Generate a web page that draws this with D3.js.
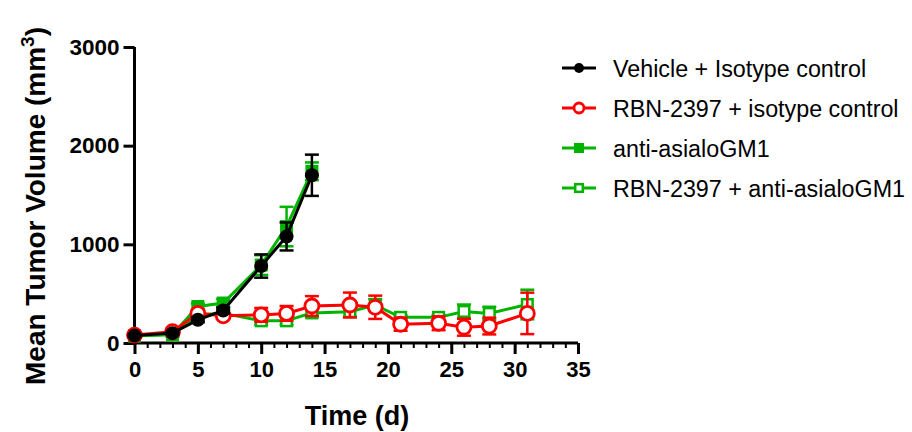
<!DOCTYPE html>
<html lang="en">
<head>
<meta charset="UTF-8">
<title>Mean Tumor Volume</title>
<script src="https://cdn.jsdelivr.net/npm/d3@7/dist/d3.min.js"></script>
<style>
  body { margin: 0; background: #fff; }
  text { font-family: "Liberation Sans", Arial, sans-serif; }
</style>
</head>
<body>
<svg width="912" height="432"></svg>
<script>
// data
var days = [0, 3, 5, 7, 10, 12, 14, 17, 19, 21, 24, 26, 28, 31];
var vehicleMean = [75, 100, 235, 330, 780, 1080, 1700];
var vehicleSem  = [10, 15, 25, 30, 118, 142, 209];
var antiMean = [75, 85, 370, 405, 790, 1180, 1740];
var antiSem  = [15, 20, 30, 40, 100, 200, 90];
var rbnIsoMean = [80, 115, 300, 275, 285, 300, 375, 385, 362, 190, 200, 160, 172, 300];
var rbnIsoSem  = [10, 15, 30, 30, 70, 75, 100, 126, 118, 66, 70, 86, 85, 210];
var rbnAntiMean = [70, 85, 290, 300, 225, 225, 305, 317, 385, 260, 260, 320, 300, 390];
var rbnAntiSem  = [10, 15, 25, 30, 40, 40, 40, 50, 60, 20, 25, 70, 67, 150];
var xTicks = [0, 5, 10, 15, 20, 25, 30, 35];
var yTicks = [0, 1000, 2000, 3000];

var green = "#00b400";
var series = [
  {name: "Vehicle + Isotype control", mean: vehicleMean, sem: vehicleSem, color: "#000", shape: "circle", filled: true},
  {name: "RBN-2397 + isotype control", mean: rbnIsoMean, sem: rbnIsoSem, color: "#ff0000", shape: "circle", filled: false},
  {name: "anti-asialoGM1", mean: antiMean, sem: antiSem, color: green, shape: "square", filled: true},
  {name: "RBN-2397 + anti-asialoGM1", mean: rbnAntiMean, sem: rbnAntiSem, color: green, shape: "square", filled: false}
];

var svg = d3.select("svg");
var x = d3.scaleLinear().domain([0, 35]).range([134.5, 578]);
var y = d3.scaleLinear().domain([0, 3000]).range([343, 47]);

// axes
var xAxis = svg.append("g").attr("transform", "translate(0,343)");
xAxis.call(d3.axisBottom(x).tickValues(d3.range(0, 36, 1)).tickSize(5).tickFormat(""));
xAxis.call(function (g) {
  g.selectAll(".tick line").attr("stroke-width", 2).attr("stroke", "#000");
});
var xMajor = svg.append("g").attr("transform", "translate(0,343)")
  .call(d3.axisBottom(x).tickValues(xTicks).tickSize(11).tickPadding(7).tickFormat(d3.format("d")));
xMajor.selectAll(".domain").remove();
xAxis.select(".domain").attr("stroke-width", 3).attr("stroke", "#000").attr("d", "M" + x(0) + ",0H" + x(35));
xMajor.selectAll(".tick line").attr("stroke-width", 3);
xMajor.selectAll("text").attr("font-size", 22).attr("font-weight", "bold").attr("fill", "#000")
  .attr("font-family", "Liberation Sans, Arial, sans-serif");

var yAxis = svg.append("g").attr("transform", "translate(134.5,0)")
  .call(d3.axisLeft(y).tickValues(yTicks).tickSize(11).tickPadding(4).tickFormat(d3.format("d")));
yAxis.select(".domain").attr("stroke-width", 3).attr("d", "M0," + y(0) + "V" + y(3000));
yAxis.selectAll(".tick line").attr("stroke-width", 3);
yAxis.selectAll("text").attr("font-size", 22.5).attr("font-weight", "bold").attr("fill", "#000")
  .attr("font-family", "Liberation Sans, Arial, sans-serif");

// axis titles
svg.append("text").attr("x", 357).attr("y", 425).attr("text-anchor", "middle")
  .attr("font-size", 27).attr("font-weight", "bold").text("Time (d)");
var yt = svg.append("text").attr("transform", "translate(45,206) rotate(-90)")
  .attr("text-anchor", "middle").attr("font-size", 28).attr("font-weight", "bold");
yt.append("tspan").text("Mean Tumor Volume (mm");
yt.append("tspan").attr("dy", -11).attr("font-size", 19).text("3");
yt.append("tspan").attr("dy", 11).text(")");

// series, drawn back to front
function drawMarker(g, s, cx, cy, size) {
  if (s.shape === "circle") {
    g.append("circle").attr("cx", cx).attr("cy", cy).attr("r", size)
      .attr("fill", s.filled ? s.color : "#fff").attr("stroke", s.color)
      .attr("stroke-width", s.filled ? 0 : 2.8);
  } else {
    var h = s.filled ? size : size - 1.2;
    g.append("rect").attr("x", cx - h).attr("y", cy - h).attr("width", h * 2).attr("height", h * 2)
      .attr("fill", s.filled ? s.color : "#fff").attr("stroke", s.color)
      .attr("stroke-width", s.filled ? 0 : 2.5);
  }
}

var order = [3, 2, 1, 0];
var line = d3.line().x(function (d) { return x(d.t); }).y(function (d) { return y(d.v); });
order.forEach(function (k) {
  var s = series[k];
  var pts = s.mean.map(function (v, i) { return {t: days[i], v: v, e: s.sem[i]}; });
  var g = svg.append("g");
  pts.forEach(function (p) {
    var cx = x(p.t);
    g.append("line").attr("x1", cx).attr("x2", cx).attr("y1", y(p.v - p.e)).attr("y2", y(p.v + p.e))
      .attr("stroke", s.color).attr("stroke-width", 2.5);
    [p.v - p.e, p.v + p.e].forEach(function (v) {
      g.append("line").attr("x1", cx - 7).attr("x2", cx + 7).attr("y1", y(v)).attr("y2", y(v))
        .attr("stroke", s.color).attr("stroke-width", 2.5);
    });
  });
  g.append("path").datum(pts).attr("d", line).attr("fill", "none")
    .attr("stroke", s.color).attr("stroke-width", 3);
  pts.forEach(function (p) {
    drawMarker(g, s, x(p.t), y(p.v), s.shape === "circle" ? 7 : 6.5);
  });
});

// legend
var legend = svg.append("g");
series.forEach(function (s, i) {
  var ly = 68 + i * 40;
  legend.append("line").attr("x1", 562).attr("x2", 596).attr("y1", ly).attr("y2", ly)
    .attr("stroke", s.color).attr("stroke-width", 3);
  drawMarker(legend, s, 579, ly, 5);
  legend.append("text").attr("x", 613).attr("y", ly + 8.5).attr("font-size", 23.3)
    .attr("fill", "#000").text(s.name);
});
</script>
</body>
</html>
